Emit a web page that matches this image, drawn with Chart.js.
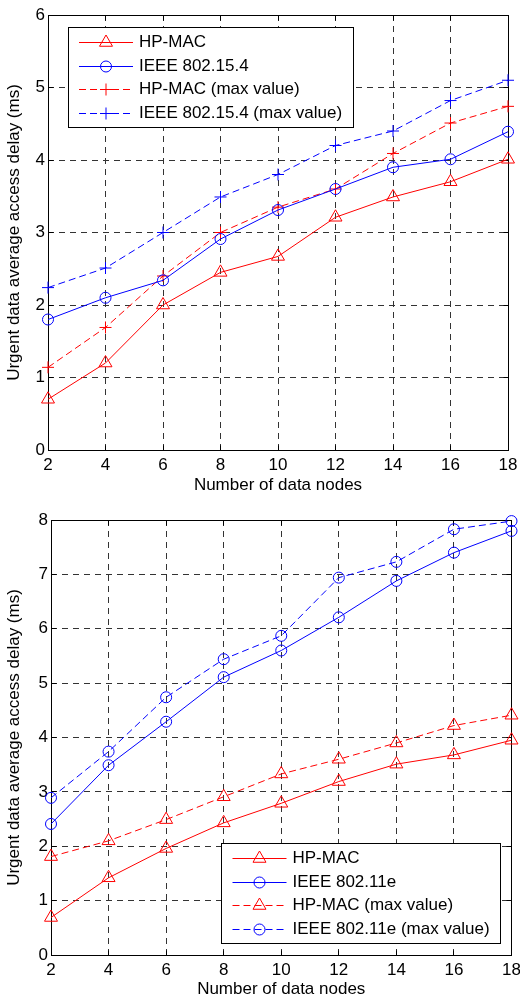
<!DOCTYPE html>
<html>
<head>
<meta charset="utf-8">
<script src="https://cdn.jsdelivr.net/npm/chart.js@4.4.1/dist/chart.umd.min.js"></script>
<style>
  body { margin: 0; background: #fff; }
  canvas { display: block; }
</style>
</head>
<body>
<canvas id="chartTop" width="520" height="500"></canvas>
<canvas id="chartBottom" width="520" height="500"></canvas>
<script>
const nodes = [2, 4, 6, 8, 10, 12, 14, 16, 18];
const xTicks = [2, 4, 6, 8, 10, 12, 14, 16, 18];
const yTicksTop = [0, 1, 2, 3, 4, 5, 6];
const yTicksBottom = [0, 1, 2, 3, 4, 5, 6, 7, 8];

// top figure: HP-MAC vs IEEE 802.15.4
const hpmacTop = [0.70, 1.20, 2.00, 2.45, 2.67, 3.21, 3.49, 3.70, 4.01];
const ieee154 = [1.80, 2.10, 2.34, 2.91, 3.31, 3.60, 3.90, 4.01, 4.39];
const hpmacTopMax = [1.14, 1.69, 2.40, 3.00, 3.35, 3.60, 4.09, 4.51, 4.74];
const ieee154Max = [2.24, 2.51, 3.00, 3.49, 3.80, 4.20, 4.40, 4.82, 5.10];

// bottom figure: HP-MAC vs IEEE 802.11e
const hpmacBottom = [0.69, 1.42, 1.96, 2.43, 2.79, 3.19, 3.51, 3.68, 3.95];
const ieee11e = [2.41, 3.49, 4.29, 5.11, 5.60, 6.21, 6.88, 7.40, 7.80];
const hpmacBottomMax = [1.81, 2.10, 2.49, 2.91, 3.33, 3.60, 3.90, 4.22, 4.41];
const ieee11eMax = [2.89, 3.74, 4.74, 5.44, 5.87, 6.94, 7.23, 7.83, 7.98];

const FONT = '"Liberation Sans", Arial, Helvetica, sans-serif';
const RED = '#ff0000';
const BLUE = '#0000ff';

Chart.defaults.font.family = FONT;
Chart.defaults.font.size = 17;
Chart.defaults.color = '#000';

function series(label, values, color, marker, radius, dashed) {
  return {
    label: label,
    data: nodes.map((n, i) => ({ x: n, y: values[i] })),
    borderColor: color,
    backgroundColor: 'rgba(0,0,0,0)',
    borderWidth: 1,
    borderDash: dashed ? [7, 4] : [],
    pointStyle: marker,
    pointRadius: radius,
    pointHoverRadius: radius,
    pointBorderColor: color,
    pointBackgroundColor: 'rgba(0,0,0,0)',
    pointBorderWidth: 1,
    tension: 0,
    clip: false
  };
}

function drawMarker(ctx, style, x, y, r) {
  ctx.beginPath();
  if (style === 'circle') {
    ctx.arc(x, y, r, 0, Math.PI * 2);
  } else if (style === 'triangle') {
    ctx.moveTo(x, y - r);
    ctx.lineTo(x + Math.sin(Math.PI * 2 / 3) * r, y + r / 2);
    ctx.lineTo(x - Math.sin(Math.PI * 2 / 3) * r, y + r / 2);
    ctx.closePath();
  } else {
    ctx.moveTo(x, y - r); ctx.lineTo(x, y + r);
    ctx.moveTo(x - r, y); ctx.lineTo(x + r, y);
  }
  ctx.stroke();
}

const crisp = v => Math.round(v - 0.5) + 0.5;

/* box around the axes + inward tick marks */
const framePlugin = {
  id: 'frame',
  beforeDatasetsDraw(chart) {
    const { ctx, chartArea: a, scales } = chart;
    const L = crisp(a.left), R = crisp(a.right), T = crisp(a.top), B = crisp(a.bottom);
    ctx.save();
    ctx.strokeStyle = '#000';
    ctx.lineWidth = 1;
    ctx.setLineDash([]);
    ctx.strokeRect(L, T, R - L, B - T);
    ctx.beginPath();
    scales.x.ticks.forEach(t => {
      const px = crisp(scales.x.getPixelForValue(t.value));
      ctx.moveTo(px, B); ctx.lineTo(px, B - 5);
      ctx.moveTo(px, T); ctx.lineTo(px, T + 5);
    });
    scales.y.ticks.forEach(t => {
      const py = crisp(scales.y.getPixelForValue(t.value));
      ctx.moveTo(L, py); ctx.lineTo(L + 5, py);
      ctx.moveTo(R, py); ctx.lineTo(R - 5, py);
    });
    ctx.stroke();
    ctx.restore();
  }
};

/* legend drawn inside the plot, MATLAB style */
const boxLegend = {
  id: 'boxLegend',
  afterDatasetsDraw(chart, args, opts) {
    const { ctx, chartArea: a } = chart;
    const sets = chart.data.datasets;
    ctx.save();
    ctx.font = '17px ' + FONT;
    const textW = Math.max(...sets.map(d => ctx.measureText(d.label).width));
    const w = Math.round(71 + textW + 11), h = 100;
    const bx = opts.corner === 'nw' ? a.left + opts.dx : a.right - opts.dx - w;
    const by = opts.corner === 'nw' ? a.top + opts.dy : a.bottom - opts.dy - h;
    ctx.fillStyle = '#fff';
    ctx.fillRect(bx, by, w, h);
    ctx.strokeStyle = '#000';
    ctx.lineWidth = 1;
    ctx.strokeRect(crisp(bx), crisp(by), w, h);
    sets.forEach((d, i) => {
      const cy = Math.round(by + 15 + i * 23.7) + 0.5;
      ctx.strokeStyle = d.borderColor;
      ctx.setLineDash(d.borderDash);
      ctx.beginPath();
      ctx.moveTo(bx + 11, cy);
      ctx.lineTo(bx + 65, cy);
      ctx.stroke();
      ctx.setLineDash([]);
      drawMarker(ctx, d.pointStyle, bx + 38, cy, d.pointRadius);
      ctx.fillStyle = '#000';
      ctx.textBaseline = 'middle';
      ctx.textAlign = 'left';
      ctx.fillText(d.label, bx + 71, cy);
    });
    ctx.restore();
  }
};

function makeOptions(yMax, yTicks, yWidth, xHeight, padding, legendOpts) {
  const grid = { color: '#333', lineWidth: 1, drawTicks: false };
  const border = { display: false, dash: [6, 5] };
  return {
    responsive: false,
    animation: false,
    events: [],
    layout: { padding: padding },
    plugins: {
      legend: { display: false },
      tooltip: { enabled: false },
      boxLegend: legendOpts
    },
    scales: {
      x: {
        type: 'linear',
        min: 2,
        max: 18,
        grid: grid,
        border: border,
        ticks: { padding: 5, color: '#000' },
        afterBuildTicks: s => { s.ticks = xTicks.map(v => ({ value: v })); },
        afterFit: s => { s.height = xHeight; s.paddingLeft = 0; s.paddingRight = 0; },
        title: { display: true, text: 'Number of data nodes', padding: 0, color: '#000' }
      },
      y: {
        min: 0,
        max: yMax,
        grid: grid,
        border: border,
        ticks: { padding: 3, color: '#000' },
        afterBuildTicks: s => { s.ticks = yTicks.map(v => ({ value: v })); },
        afterFit: s => { s.width = yWidth; },
        title: { display: true, text: 'Urgent data average access delay (ms)', padding: 0, color: '#000' }
      }
    }
  };
}

/* ================= TOP CHART ================= */
new Chart(document.getElementById('chartTop'), {
  type: 'line',
  data: {
    datasets: [
      series('HP-MAC', hpmacTop, RED, 'triangle', 7.5, false),
      series('IEEE 802.15.4', ieee154, BLUE, 'circle', 5.5, false),
      series('HP-MAC (max value)', hpmacTopMax, RED, 'cross', 6, true),
      series('IEEE 802.15.4 (max value)', ieee154Max, BLUE, 'cross', 6, true)
    ]
  },
  options: makeOptions(6, yTicksTop, 44, 46,
    { left: 4, right: 12, top: 15, bottom: 4 },
    { corner: 'nw', dx: 20, dy: 12 }),
  plugins: [framePlugin, boxLegend]
});

/* ================= BOTTOM CHART ================= */
new Chart(document.getElementById('chartBottom'), {
  type: 'line',
  data: {
    datasets: [
      series('HP-MAC', hpmacBottom, RED, 'triangle', 7.5, false),
      series('IEEE 802.11e', ieee11e, BLUE, 'circle', 5.5, false),
      series('HP-MAC (max value)', hpmacBottomMax, RED, 'triangle', 7.5, true),
      series('IEEE 802.11e (max value)', ieee11eMax, BLUE, 'circle', 5.5, true)
    ]
  },
  options: makeOptions(8, yTicksBottom, 47, 45,
    { left: 4, right: 8, top: 20, bottom: 0 },
    { corner: 'se', dx: 11, dy: 12 }),
  plugins: [framePlugin, boxLegend]
});
</script>
</body>
</html>
